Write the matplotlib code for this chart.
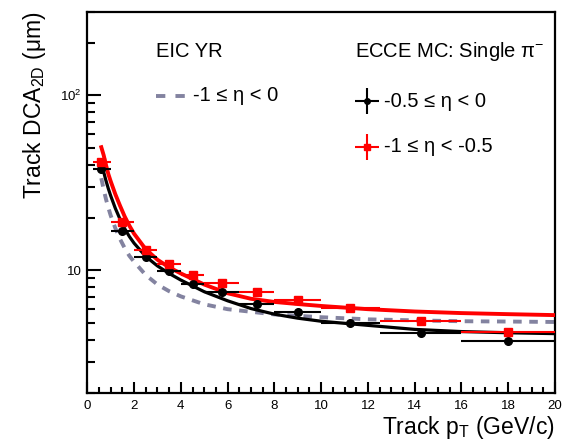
import numpy as np
import matplotlib
matplotlib.use("Agg")
import matplotlib.pyplot as plt
from matplotlib.ticker import FixedLocator, FixedFormatter, NullFormatter

plt.rcParams['font.family'] = ['Liberation Sans', 'DejaVu Sans']
plt.rcParams['mathtext.fontset'] = 'custom'
plt.rcParams['mathtext.rm'] = 'Liberation Sans'
plt.rcParams['mathtext.it'] = 'Liberation Sans'

# pT bins of the single-pion sample
pt_center = [0.58, 1.5, 2.5, 3.5, 4.5, 5.75, 7.25, 9.0, 11.25, 14.25, 18.0]
pt_lo = [0.25, 1.0, 2.0, 3.0, 4.0, 5.0, 6.5, 8.0, 10.0, 12.5, 16.0]
pt_hi = [1.0, 2.0, 3.0, 4.0, 5.0, 6.5, 8.0, 10.0, 12.5, 16.0, 20.0]

# DCA2D resolution (um)
dca_eta_05_0 = [37.9, 16.8, 11.9, 9.9, 8.4, 7.5, 6.46, 5.8, 5.0, 4.4, 3.95]
dca_eta_1_05 = [41.7, 18.8, 13.0, 10.9, 9.45, 8.47, 7.53, 6.74, 6.11, 5.17, 4.42]

# fitted curves
fit_pt = [0.6, 0.7, 0.8, 0.9, 1.0, 1.2, 1.4, 1.6, 1.8, 2.0, 2.5, 3.0, 3.5, 4.0,
          5.0, 6.0, 7.0, 8.0, 9.0, 10.0, 12.0, 14.0, 16.0, 18.0, 20.0]
fit_eta_05_0 = [41.0, 36.5, 32.5, 29.3, 26.7, 22.6, 19.6, 17.3, 15.6, 14.3, 12.0,
                10.6, 9.6, 8.8, 7.55, 6.7, 6.05, 5.62, 5.33, 5.12, 4.85, 4.6, 4.47,
                4.4, 4.35]
fit_eta_1_05 = [50.5, 45.5, 40.0, 35.5, 32.3, 27.2, 23.4, 20.3, 18.0, 16.2, 13.2,
                11.5, 10.4, 9.6, 8.3, 7.4, 6.88, 6.6, 6.42, 6.26, 6.0, 5.82, 5.7,
                5.62, 5.55]
# EIC Yellow Report requirement, -1 <= eta < 0
yr_eta_1_0 = [33.6, 29.0, 25.5, 22.8, 20.6, 17.4, 15.1, 13.4, 12.1, 11.2, 9.4,
              8.3, 7.6, 7.1, 6.4, 6.0, 5.8, 5.6, 5.5, 5.4, 5.25, 5.18, 5.12,
              5.1, 5.07]

gray = '#8383a0'

fig = plt.figure(figsize=(5.62, 4.44), dpi=100)
ax = fig.add_axes([0.1553, 0.1155, 0.8322, 0.8581])

x = np.array(pt_center)
xerr = [x - np.array(pt_lo), np.array(pt_hi) - x]

ax.plot(fit_pt, yr_eta_1_0, color=gray, lw=2.8, dashes=(2.2, 1.95), zorder=2)
ax.plot(fit_pt, fit_eta_05_0, color='black', lw=2.3, zorder=3)
ax.plot(fit_pt, fit_eta_1_05, color='red', lw=2.8, zorder=4)

ax.errorbar(x, dca_eta_05_0, xerr=xerr, yerr=np.array(dca_eta_05_0) * 0.03,
            fmt='o', color='black', ms=5.5, elinewidth=1.5, capsize=0, zorder=5)
ax.errorbar(x, dca_eta_1_05, xerr=xerr, yerr=np.array(dca_eta_1_05) * 0.03,
            fmt='s', color='red', ms=5.5, elinewidth=1.5, capsize=0, zorder=6)

ax.set_yscale('log')
ax.set_xlim(0, 20)
ax.set_ylim(2, 300)

ax.xaxis.set_major_locator(FixedLocator(np.arange(0, 21, 2)))
ax.xaxis.set_minor_locator(FixedLocator(np.arange(0, 20.01, 0.5)))
ax.yaxis.set_major_locator(FixedLocator([10, 100]))
ax.yaxis.set_major_formatter(FixedFormatter(['10', '$10^2$']))
ax.yaxis.set_minor_locator(FixedLocator([2, 3, 4, 5, 6, 7, 8, 9, 20, 30, 40, 50,
                                         60, 70, 80, 90, 200, 300]))
ax.yaxis.set_minor_formatter(NullFormatter())

ax.tick_params(which='both', direction='in', top=False, right=False,
               labelsize=9.5, width=1.5)
ax.tick_params(axis='x', which='major', length=8, pad=5)
ax.tick_params(axis='x', which='minor', length=4)
ax.tick_params(axis='y', which='major', length=10, pad=4)
ax.tick_params(axis='y', which='minor', length=6)
for s in ax.spines.values():
    s.set_linewidth(1.6)

ax.set_xlabel('Track p$_{\\mathrm{T}}$ (GeV/c)', fontsize=16.5, ha='right', x=1.0,
              labelpad=2)
ax.set_ylabel('Track DCA$_{\\mathrm{2D}}$ ($\\mu$m)', fontsize=16.5, ha='right',
              y=1.0, labelpad=9)

# legend block
tr = ax.transAxes
ax.text(0.146, 0.895, 'EIC YR', transform=tr, fontsize=14.5, va='center')
ax.plot([0.148, 0.21], [0.779, 0.779], transform=tr, color=gray, lw=2.8,
        dashes=(2.4, 2.6))
ax.text(0.227, 0.779, '-1 ≤ η < 0', transform=tr, fontsize=14.5, va='center')

ax.text(0.573, 0.895, 'ECCE MC: Single π$^{-}$', transform=tr, fontsize=14.5,
        va='center')
ax.errorbar([0.5985], [0.765], xerr=[0.026], yerr=[0.034], transform=tr,
            fmt='o', color='black', ms=4, elinewidth=1.5, capsize=0, clip_on=False)
ax.text(0.634, 0.765, '-0.5 ≤ η < 0', transform=tr, fontsize=14.5, va='center')
ax.errorbar([0.5985], [0.645], xerr=[0.026], yerr=[0.034], transform=tr,
            fmt='s', color='red', ms=4.5, elinewidth=1.5, capsize=0, clip_on=False)
ax.text(0.634, 0.645, '-1 ≤ η < -0.5', transform=tr, fontsize=14.5, va='center')

fig.savefig('out.png', dpi=100)
